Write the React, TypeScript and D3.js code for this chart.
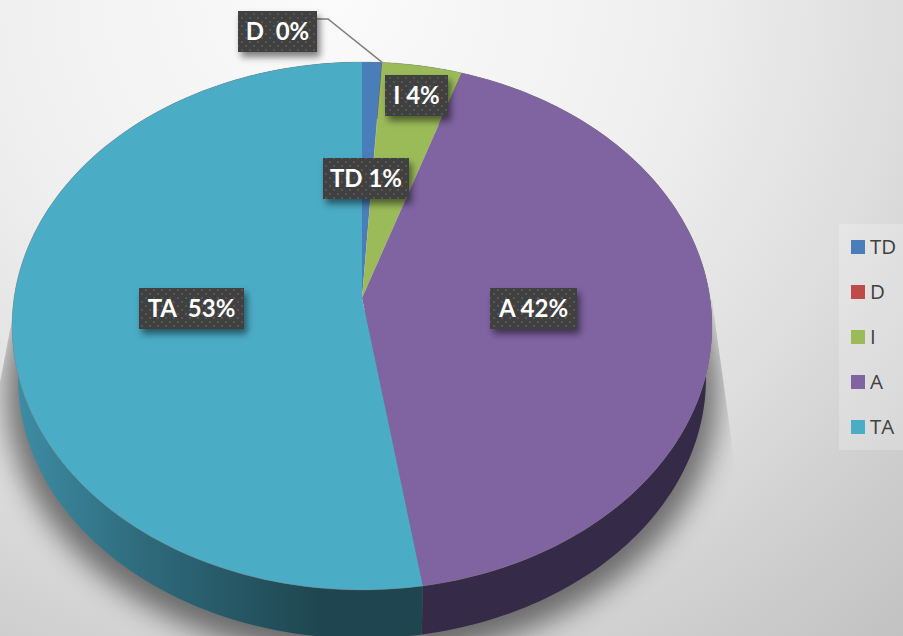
import React from "react";
import * as d3 from "d3";

const categories = ["TD", "D", "I", "A", "TA"];
const shares = [1.0, 0.02, 4.08, 42.4, 52.5];
const labelTexts = ["TD 1%", "D\u00a0\u00a00%", "I 4%", "A 42%", "TA\u00a0\u00a053%"];
const topColors = ["#4a7ebb", "#be4b48", "#9bbb59", "#8064a2", "#4bacc6"];
const sideColors = ["#2c4c70", "#71302e", "#5d7035", "#352a47", "url(#taSide)"];

const W = 903, H = 636;
const labelBoxes = [
  { x: 323, y: 158, w: 86, h: 41 },
  { x: 238, y: 11, w: 79, h: 41 },
  { x: 385, y: 75, w: 63, h: 41 },
  { x: 490, y: 288, w: 87, h: 41 },
  { x: 139, y: 288, w: 105, h: 41 },
];

// perspective disc: maps a pie angle onto the tilted ellipse
const K = 0.106;
const project = (a: number, sx = 348, sy = 261, dy = 0) => {
  const u = Math.sin(a), v = -Math.cos(a), w = 1 - K * v;
  return [362 + (sx * u) / w, 298 + dy + (sy * v) / w] as [number, number];
};
const LOW = [342, 257, 53] as const;

const pieGen = d3.pie<number>().sort(null).value((d) => d);
const arcs = pieGen(shares);
const line = d3.line();
const sample = (s: number, e: number) =>
  d3.range(0, 121).map((i) => s + ((e - s) * i) / 120);

const topPath = (s: number, e: number) =>
  line([[362, 298], ...sample(s, e).map((a) => project(a))])! + "Z";
const sidePath = (s: number, e: number) =>
  line([
    ...sample(s, e).map((a) => project(a)),
    ...sample(e, s).map((a) => project(a, LOW[0], LOW[1], LOW[2])),
  ])! + "Z";
const outline = (sx: number, sy: number, dy: number) =>
  line(sample(0, Math.PI * 2).map((a) => project(a, sx, sy, dy)))! + "Z";

const LABEL_FONT = "Lato, sans-serif";
const LEGEND_FONT = "'Open Sans', sans-serif";

export default function App() {
  const legendY = d3.scalePoint<string>().domain(categories).range([247, 427]);
  const boundary = project(arcs[1].endAngle);
  return (
    <svg width={W} height={H} viewBox={`0 0 ${W} ${H}`} style={{ position: "absolute", left: 0, top: 0 }}>
      <defs>
        <radialGradient id="bg" gradientUnits="userSpaceOnUse" cx="330" cy="-10" r="860">
          <stop offset="0" stopColor="#fbfbfb" />
          <stop offset="0.4" stopColor="#efefef" />
          <stop offset="0.66" stopColor="#dedede" />
          <stop offset="0.83" stopColor="#cfcfcf" />
          <stop offset="1" stopColor="#c2c2c2" />
        </radialGradient>
        <linearGradient id="taSide" gradientUnits="userSpaceOnUse" x1="20" y1="0" x2="320" y2="0">
          <stop offset="0" stopColor="#3d8ca3" />
          <stop offset="0.4" stopColor="#2f6b7d" />
          <stop offset="1" stopColor="#1f4650" />
        </linearGradient>
        <filter id="blur" x="-20%" y="-20%" width="140%" height="140%">
          <feGaussianBlur stdDeviation="14" />
        </filter>
        <filter id="boxShadow" x="-30%" y="-40%" width="170%" height="200%">
          <feDropShadow dx="3" dy="5" stdDeviation="3.5" floodColor="#000" floodOpacity="0.5" />
        </filter>
        <clipPath id="shadowClip">
          <polygon points="712,300 737,480 903,636 0,636 0,382 12,320" />
        </clipPath>
        <pattern id="dots" width="8" height="8" patternUnits="userSpaceOnUse">
          <rect width="8" height="8" fill="#404040" />
          <rect x="1" y="1" width="2" height="2" fill="#575757" />
          <rect x="5" y="5" width="2" height="2" fill="#575757" />
        </pattern>
      </defs>
      <rect width={W} height={H} fill="url(#bg)" />
      <g clipPath="url(#shadowClip)">
        <path d={outline(354, 264, 66)} fill="#000" opacity="0.5" filter="url(#blur)" />
      </g>
      {arcs.map((d, i) => (
        <path key={"s" + i} d={sidePath(d.startAngle, d.endAngle)} fill={sideColors[i]} />
      ))}
      {arcs.map((d, i) => (
        <path key={"t" + i} d={topPath(d.startAngle, d.endAngle)} fill={topColors[i]} />
      ))}
      <path d={outline(348, 261, 0)} fill="none" stroke="#888" strokeOpacity="0.35" strokeWidth="1" />
      <polyline
        points={`${boundary[0]},${boundary[1]} 328,19 317,19`}
        fill="none"
        stroke="#7f7f7f"
        strokeWidth="1.5"
      />
      {labelBoxes.map((b, i) => (
        <g key={"l" + i}>
          <rect x={b.x} y={b.y} width={b.w} height={b.h} fill="url(#dots)" filter="url(#boxShadow)" />
          <text
            x={b.x + b.w / 2}
            y={b.y + b.h / 2 + 8.5}
            textAnchor="middle"
            fontFamily={LABEL_FONT}
            fontWeight="700"
            fontSize="24"
            fill="#fff"
          >
            {labelTexts[i]}
          </text>
        </g>
      ))}
      <rect x={839} y={224} width={64} height={226} fill="#fff" opacity="0.22" />
      {categories.map((c, i) => (
        <g key={c}>
          <rect x={851} y={legendY(c)! - 7} width={14} height={14} fill={topColors[i]} />
          <text x={870} y={legendY(c)! + 7} fontFamily={LEGEND_FONT} fontSize="20.5" fill="#404040">
            {c}
          </text>
        </g>
      ))}
    </svg>
  );
}
